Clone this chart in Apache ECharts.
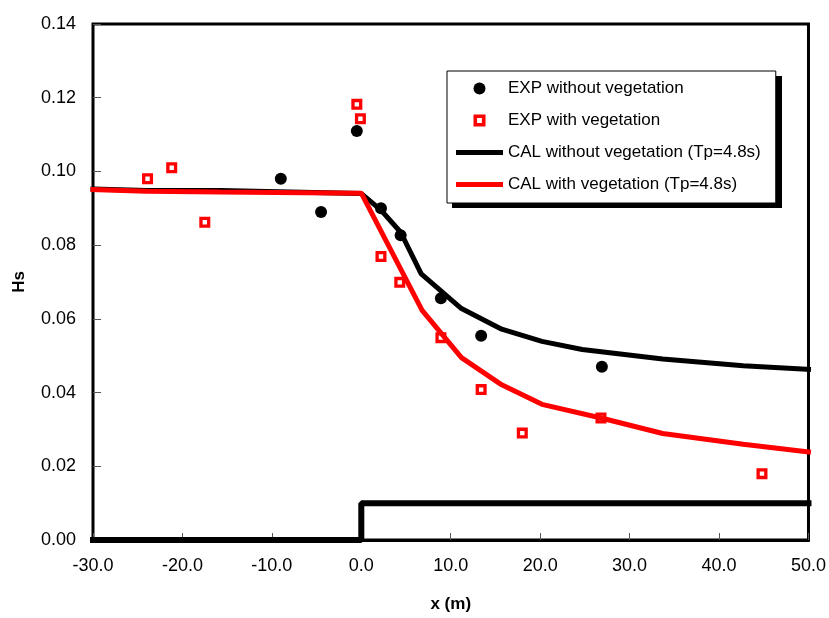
<!DOCTYPE html>
<html>
<head>
<meta charset="utf-8">
<script src="https://cdn.jsdelivr.net/npm/echarts@6/dist/echarts.min.js"></script>
<style>
  html, body { margin: 0; background: #fff; }
  #chart { width: 829px; height: 618px; }
</style>
</head>
<body>
<div id="chart"></div>
<script>
  // measured points (x in m, Hs in m)
  var expNoVeg = [[-9.0, 0.098], [-4.5, 0.089], [-0.5, 0.111], [2.2, 0.090], [4.4, 0.0827],
                  [8.9, 0.0656], [13.4, 0.0554], [26.9, 0.047]];
  var expVeg = [[-23.9, 0.098], [-21.2, 0.101], [-17.5, 0.0862], [-0.5, 0.1182], [-0.1, 0.1143],
                [2.2, 0.0769], [4.3, 0.0699], [8.9, 0.0549], [13.4, 0.0408], [18.0, 0.029],
                [26.8, 0.0331], [44.8, 0.018]];
  // computed curves
  var calNoVeg = [[-30, 0.0952], [-24, 0.0948], [-15.8, 0.0948], [0, 0.094], [2.2, 0.0895],
                  [4.4, 0.0835], [6.7, 0.0722], [11.2, 0.0628], [15.7, 0.0572], [20.2, 0.0539],
                  [24.7, 0.0517], [33.7, 0.0491], [42.7, 0.0473], [50, 0.0463]];
  var calVeg = [[-30, 0.0951], [-24, 0.0946], [-15.8, 0.0944], [0, 0.0941], [6.8, 0.0623],
                [11.2, 0.0495], [15.7, 0.0421], [20.2, 0.0368], [26.8, 0.0331], [33.7, 0.0289],
                [42.7, 0.026], [50, 0.0239]];
  // bottom profile
  var bed = [[-30, 0], [0, 0], [0, 0.01], [50, 0.01]];

  var font = 'Liberation Sans, Arial, sans-serif';
  var hollowSquare = 'path://M0,0H10V10H0Z M3,3V7H7V3Z';
  var bar = 'path://M0,0H47V5H0Z';

  var chart = echarts.init(document.getElementById('chart'));
  var option = {
    backgroundColor: '#fff',
    animation: false,
    grid: {
      left: 93, right: 20, top: 24, bottom: 73,
      show: true,
      borderColor: '#000',
      borderWidth: 3
    },
    // drop shadow behind the legend box
    graphic: [{
      type: 'rect',
      left: 452,
      top: 76,
      shape: { width: 330, height: 132 },
      style: { fill: '#000' },
      z: 3
    }],
    legend: {
      orient: 'vertical',
      left: 447,
      top: 71,
      z: 5,
      padding: [9, 15, 10, 9],
      itemWidth: 47,
      itemHeight: 12,
      itemGap: 15,
      backgroundColor: '#fff',
      borderColor: '#000',
      borderWidth: 1,
      textStyle: { fontFamily: font, fontSize: 17, color: '#000' },
      data: [
        { name: 'EXP without vegetation', icon: 'circle' },
        { name: 'EXP with vegetation', icon: hollowSquare },
        { name: 'CAL without vegetation (Tp=4.8s)', icon: bar },
        { name: 'CAL with vegetation (Tp=4.8s)', icon: bar }
      ]
    },
    xAxis: {
      type: 'value',
      min: -30,
      max: 50,
      interval: 10,
      name: 'x (m)',
      nameLocation: 'middle',
      nameGap: 56,
      nameTextStyle: { fontFamily: font, fontSize: 17, fontWeight: 'bold', color: '#000' },
      axisLine: { show: true, onZero: false, lineStyle: { color: '#000', width: 3 } },
      axisTick: { show: true, inside: false, length: -7, lineStyle: { color: '#555', width: 1 } },
      axisLabel: {
        margin: 17,
        fontFamily: font, fontSize: 18, color: '#000',
        formatter: function (v) { return v.toFixed(1); }
      },
      splitLine: { show: false }
    },
    yAxis: {
      type: 'value',
      min: 0,
      max: 0.14,
      interval: 0.02,
      name: 'Hs',
      nameLocation: 'middle',
      nameGap: 65,
      nameTextStyle: { fontFamily: font, fontSize: 17, fontWeight: 'bold', color: '#000' },
      axisLine: { show: false, onZero: false },
      axisTick: { show: true, inside: true, length: 8, lineStyle: { color: '#555' } },
      axisLabel: {
        margin: 17,
        fontFamily: font, fontSize: 18, color: '#000',
        formatter: function (v) { return v.toFixed(2); }
      },
      splitLine: { show: false }
    },
    series: [
      {
        name: 'bed',
        type: 'line',
        data: bed,
        symbol: 'none',
        clip: false,
        lineStyle: { color: '#000', width: 6, cap: 'square' },
        z: 2
      },
      {
        name: 'CAL without vegetation (Tp=4.8s)',
        type: 'line',
        data: calNoVeg,
        symbol: 'none',
        clip: false,
        itemStyle: { color: '#000' },
        lineStyle: { color: '#000', width: 5, cap: 'square' },
        z: 3
      },
      {
        name: 'CAL with vegetation (Tp=4.8s)',
        type: 'line',
        data: calVeg,
        symbol: 'none',
        clip: false,
        itemStyle: { color: '#ff0000' },
        lineStyle: { color: '#ff0000', width: 5, cap: 'square' },
        z: 4
      },
      {
        name: 'EXP without vegetation',
        type: 'scatter',
        data: expNoVeg,
        symbol: 'circle',
        symbolSize: 12,
        itemStyle: { color: '#000', opacity: 1 },
        z: 5
      },
      {
        name: 'EXP with vegetation',
        type: 'scatter',
        data: expVeg,
        symbol: hollowSquare,
        symbolSize: 11,
        itemStyle: { color: '#ff0000', opacity: 1 },
        z: 6
      }
    ]
  };
  chart.setOption(option);
</script>
</body>
</html>
